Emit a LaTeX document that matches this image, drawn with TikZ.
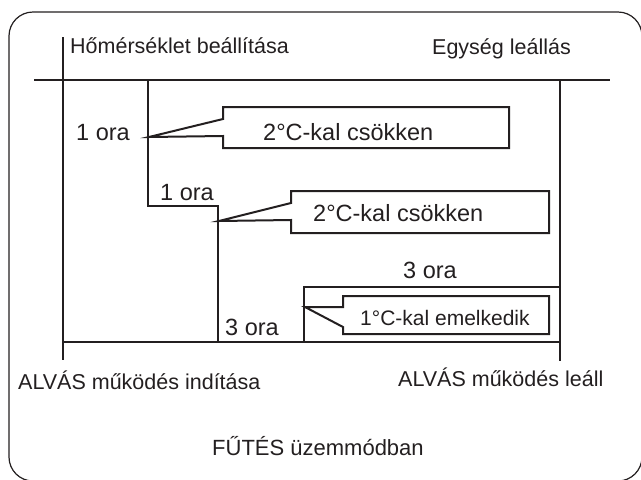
\documentclass[tikz,border=0pt]{standalone}
\usepackage{fontspec}
\setmainfont{Liberation Sans}
\definecolor{ink}{RGB}{35,31,32}
\tikzset{
  lbl/.style={inner sep=0pt, anchor=base west, text=ink, font=\fontsize{21.5}{26}\selectfont},
  hour/.style={lbl, font=\fontsize{23.5}{28}\selectfont},
  small/.style={lbl, font=\fontsize{21}{25}\selectfont},
  big/.style={lbl, font=\fontsize{22}{26}\selectfont},
  axis/.style={draw=ink, line width=2.4pt},
  stair/.style={draw=ink, line width=1.8pt},
  tag/.style={draw=ink, line width=2pt, line join=miter},
}
\begin{document}
\begin{tikzpicture}[x=1pt,y=-1pt]
    \useasboundingbox (0,0) rectangle (641,480);
    %frame
    \draw[ink, line width=1.2pt, rounded corners=24pt] (9,12) rectangle (642,481);
    %time line
    \coordinate (setL) at (63,37);
    \coordinate (setB) at (63,360);
    \coordinate (topL) at (34,80);
    \coordinate (topR) at (610,80);
    \coordinate (stopT) at (560,80);
    \coordinate (stopB) at (560,361);
    \coordinate (baseL) at (63,342);
    \coordinate (baseR) at (560,342);
    \draw[axis] (topL)--(topR);
    \draw[axis] (setL)--(setB);
    \draw[axis] (stopT)--(stopB);
    \draw[axis] (baseL)--(baseR);
    %steps
    \coordinate (s1) at (148,80);
    \coordinate (s2) at (148,206);
    \coordinate (s3) at (218,206);
    \coordinate (s4) at (218,342);
    \draw[stair] (s1)--(s2)--(s3)--(s4);
    \coordinate (r1) at (304,342);
    \coordinate (r2) at (304,287);
    \coordinate (r3) at (560,287);
    \draw[stair] (r1)--(r2)--(r3);
    %callouts
    \coordinate (tipA) at (149,137);
    \draw[tag] (223,119)--(223,107)--(509,107)--(509,148)--(223,148)--(223,136)--(tipA)--cycle;
    \coordinate (tipB) at (219,221);
    \draw[tag] (291,203)--(291,191)--(549,191)--(549,233)--(291,233)--(291,220)--(tipB)--cycle;
    \coordinate (tipC) at (305,307);
    \draw[tag] (343,296)--(549,296)--(549,334)--(343,334)--(343,327)--(tipC)--(343,307)--cycle;
    %labels
    \node[lbl] (set) at (70,53) {Hőmérséklet beállítása};
    \node[lbl] (stop) at (432,54) {Egység leállás};
    \node[hour] (h1) at (76,140) {1 ora};
    \node[hour] (dec1) at (263,140) {2°C-kal csökken};
    \node[hour] (h2) at (160,200) {1 ora};
    \node[hour] (dec2) at (313,221) {2°C-kal csökken};
    \node[hour] (h3a) at (403,278) {3 ora};
    \node[hour] (h3b) at (225,335) {3 ora};
    \node[small] (inc) at (360,325) {1°C-kal emelkedik};
    \node[lbl] (start) at (18,389) {ALVÁS működés indítása};
    \node[lbl] (end) at (398,386) {ALVÁS működés leáll};
    \node[big] (mode) at (212,455) {FŰTÉS üzemmódban};
\end{tikzpicture}
\end{document}
